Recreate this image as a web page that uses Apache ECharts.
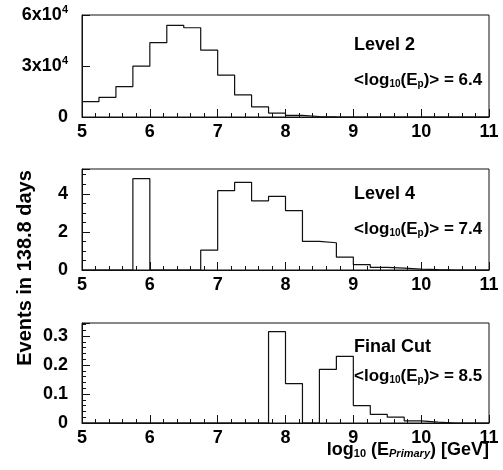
<!DOCTYPE html>
<html><head><meta charset="utf-8">
<script src="https://cdn.jsdelivr.net/npm/echarts@6/dist/echarts.min.js"></script>
<style>html,body{margin:0;padding:0;background:#fff}#c{width:503px;height:470px}</style>
</head><body><div id="c"></div>
<script>
// bin lower edges (log10 E / GeV), last entry is the upper edge of the last bin
const binEdges = [5.0,5.25,5.5,5.75,6.0,6.25,6.5,6.75,7.0,7.25,7.5,7.75,8.0,8.25,8.5,8.75,9.0,9.25,9.5,9.75,10.0,10.25,10.5,10.75,11.0];
const level2 = [9000,11600,17900,29900,43700,53900,52500,39300,24600,13000,6000,2300,900,300,100,0,0,0,0,0,0,0,0,0];
const level4 = [0,0,0,4.79,0,0,0,1.04,4.16,4.6,3.63,3.86,3.12,1.5,1.43,0.68,0.28,0.14,0.1,0.05,0.02,0,0,0];
const finalCut = [0,0,0,0,0,0,0,0,0,0,0,0.315,0.136,0,0.185,0.23,0.06,0.03,0.02,0.007,0.003,0,0,0];
const xTicks = [5,6,7,8,9,10,11];
const panelNames = ['Level 2','Level 4','Final Cut'];
const meanValues = ['6.4','7.4','8.5'];
const yMax = [60000, 5.3, 0.345];
const yInterval = [30000, 2, 0.1];
const yMinorSplit = [1, 4, 5];

const FONT = 'Liberation Sans';
const INK = '#111';
function toSteps(vals){
  const d = vals.map((v,i)=>[binEdges[i], v]);
  d.push([binEdges[binEdges.length-1], 0]);
  return d;
}
const gridTops = [15, 169, 323];
const gridH = [102, 101, 100];
const grids = gridTops.map((t,i)=>({left:82, top:t, width:407, height:gridH[i], show:true, borderColor:INK, borderWidth:1, backgroundColor:'transparent'}));
const xAxes = gridTops.map((t,i)=>({
  type:'value', gridIndex:i, min:5, max:11, interval:1,
  axisLine:{show:true, onZero:false, lineStyle:{color:INK,width:1}},
  axisTick:{show:true, inside:true, length:8, lineStyle:{color:INK}},
  minorTick:{show:true, splitNumber:5, length:4, lineStyle:{color:INK}},
  splitLine:{show:false},
  axisLabel:{show:true, color:'#000', fontFamily:FONT, fontWeight:'bold', fontSize:18, margin:6,
    formatter:v=> xTicks.includes(v) ? String(v) : ''}
}));
const yAxes = gridTops.map((t,i)=>({
  type:'value', gridIndex:i, min:0, max:yMax[i], interval:yInterval[i],
  axisLine:{show:true, lineStyle:{color:INK,width:1}},
  axisTick:{show:true, inside:true, length:8, lineStyle:{color:INK}},
  minorTick:{show:yMinorSplit[i]>1, splitNumber:yMinorSplit[i], length:4, lineStyle:{color:INK}},
  splitLine:{show:false},
  axisLabel:{show:true, color:'#000', fontFamily:FONT, fontWeight:'bold', fontSize:18, margin:14,
    showMaxLabel: i===0,
    formatter: i===0 ? (v=> v===0 ? '0' : (v/10000)+'x10{sup|4}') : (v=> String(Math.round(v*10)/10)),
    rich:{sup:{fontSize:11, fontWeight:'bold', fontFamily:FONT, color:'#000', verticalAlign:'top', padding:[0,0,10,0]}}
  }
}));
const allData = [level2, level4, finalCut];
const series = allData.map((vals,i)=>({
  type:'line', xAxisIndex:i, yAxisIndex:i, step:'end', data:toSteps(vals),
  symbol:'none', lineStyle:{color:INK, width:1.2}, clip:true, animation:false
}));
const labelTops = [[36,71],[185,220],[338,367]];
const titles = [];
labelTops.forEach((p,i)=>{
  titles.push({text:panelNames[i], left:354, top:p[0], textStyle:{fontFamily:FONT, fontWeight:'bold', fontSize:18, color:'#000'}, padding:0});
  titles.push({text:'<log{s|10}(E{s|p})> = '+meanValues[i], left:354, top:p[1], padding:0,
    textStyle:{fontFamily:FONT, fontWeight:'bold', fontSize:17, color:'#000',
      rich:{s:{fontSize:10, fontWeight:'bold', fontFamily:FONT, color:'#000', padding:[8,0,0,0]}}}});
});
const chart = echarts.init(document.getElementById('c'), null, {renderer:'canvas'});
chart.setOption({
  animation:false,
  backgroundColor:'#fff',
  title:titles,
  grid:grids, xAxis:xAxes, yAxis:yAxes, series:series,
  graphic:[
    {type:'text', x:25, y:268, rotation:Math.PI/2, style:{text:'Events in 138.8 days', fontFamily:FONT, fontWeight:'bold', fontSize:20, fill:'#000', align:'center', verticalAlign:'middle'}},
    {type:'text', right:14, top:441, style:{text:'log{s|10} (E{p|Primary}) [GeV]', fontFamily:FONT, fontWeight:'bold', fontSize:18, fill:'#000',
      rich:{s:{fontSize:11, fontWeight:'bold', fontFamily:FONT, fill:'#000', padding:[8,0,0,0]},
            p:{fontSize:11, fontWeight:'bold', fontStyle:'italic', fontFamily:FONT, fill:'#000', padding:[8,0,0,0]}}}}
  ]
});
</script></body></html>
